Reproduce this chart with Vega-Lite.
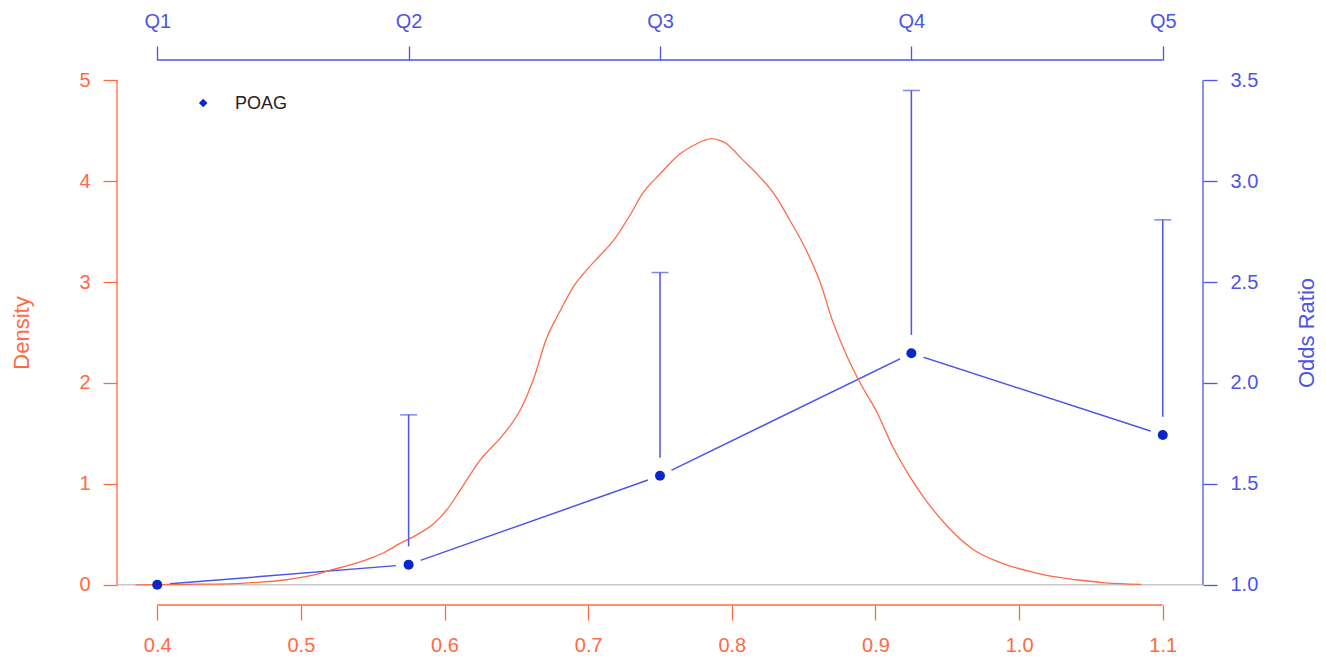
{
  "$schema": "https://vega.github.io/schema/vega-lite/v6.json",
  "autosize": {"type": "none"},
  "width": 1086,
  "height": 545,
  "padding": {"left": 117, "top": 60, "right": 123, "bottom": 60},
  "background": "white",
  "config": {
    "view": {"stroke": null},
    "font": "Liberation Sans",
    "axis": {"domain": false, "grid": false, "labelFont": "Liberation Sans", "titleFont": "Liberation Sans", "titleFontWeight": "normal", "tickWidth": 1.3, "labelFontSize": 20, "titleFontSize": 22}
  },
  "datasets": {
    "density": [
      {"x": 0.385, "d": 0.0}, {"x": 0.42, "d": 0.005}, {"x": 0.45, "d": 0.01}, {"x": 0.47, "d": 0.025},
      {"x": 0.49, "d": 0.05}, {"x": 0.51, "d": 0.1}, {"x": 0.522, "d": 0.15}, {"x": 0.535, "d": 0.2},
      {"x": 0.546, "d": 0.25}, {"x": 0.558, "d": 0.32}, {"x": 0.569, "d": 0.41}, {"x": 0.58, "d": 0.49},
      {"x": 0.592, "d": 0.6}, {"x": 0.602, "d": 0.75}, {"x": 0.611, "d": 0.94}, {"x": 0.625, "d": 1.24},
      {"x": 0.641, "d": 1.49}, {"x": 0.653, "d": 1.74}, {"x": 0.662, "d": 2.04}, {"x": 0.671, "d": 2.44},
      {"x": 0.68, "d": 2.7}, {"x": 0.69, "d": 2.96}, {"x": 0.699, "d": 3.12}, {"x": 0.708, "d": 3.26},
      {"x": 0.717, "d": 3.4}, {"x": 0.729, "d": 3.66}, {"x": 0.738, "d": 3.88}, {"x": 0.75, "d": 4.07},
      {"x": 0.764, "d": 4.27}, {"x": 0.7756, "d": 4.37}, {"x": 0.781, "d": 4.405}, {"x": 0.786, "d": 4.42},
      {"x": 0.791, "d": 4.405}, {"x": 0.7964, "d": 4.37}, {"x": 0.801, "d": 4.31}, {"x": 0.8056, "d": 4.24},
      {"x": 0.8196, "d": 4.04}, {"x": 0.829, "d": 3.88}, {"x": 0.8405, "d": 3.61}, {"x": 0.852, "d": 3.31},
      {"x": 0.8614, "d": 3.0}, {"x": 0.87, "d": 2.62}, {"x": 0.88, "d": 2.27},
      {"x": 0.889, "d": 2.01}, {"x": 0.901, "d": 1.71}, {"x": 0.912, "d": 1.37}, {"x": 0.924, "d": 1.07},
      {"x": 0.936, "d": 0.82}, {"x": 0.95, "d": 0.58}, {"x": 0.968, "d": 0.35}, {"x": 0.987, "d": 0.22},
      {"x": 1.008, "d": 0.13}, {"x": 1.02, "d": 0.09}, {"x": 1.04, "d": 0.05}, {"x": 1.06, "d": 0.02},
      {"x": 1.085, "d": 0.005}
    ],
    "odds": [
      {"q": "Q1", "x": 0.4, "or": 1.0, "bar_from": null, "upper": null},
      {"q": "Q2", "x": 0.575, "or": 1.1, "bar_from": 1.19, "upper": 1.842},
      {"q": "Q3", "x": 0.75, "or": 1.54, "bar_from": 1.63, "upper": 2.547},
      {"q": "Q4", "x": 0.925, "or": 2.147, "bar_from": 2.238, "upper": 3.449},
      {"q": "Q5", "x": 1.1, "or": 1.742, "bar_from": 1.832, "upper": 2.808}
    ],
    "legend": [{"label": "POAG", "sx": 0.432, "sy": 4.773, "tx": 0.4541, "ty": 4.76}],
    "one": [{"k": 1}]
  },
  "layer": [
    {
      "data": {"name": "odds"},
      "mark": {"type": "line", "color": "#4B55E6", "strokeWidth": 1.5},
      "encoding": {
        "x": {"field": "x", "type": "quantitative", "scale": {"domain": [0.372, 1.128], "nice": false, "zero": false}, "axis": null},
        "y": {"field": "or", "type": "quantitative", "scale": {"domain": [0.9, 3.6], "nice": false, "zero": false}, "axis": null}
      }
    },
    {
      "data": {"name": "odds"},
      "mark": {"type": "point", "filled": true, "shape": "circle", "color": "white", "opacity": 1, "size": 650, "strokeWidth": 0},
      "encoding": {
        "x": {"field": "x", "type": "quantitative", "scale": {"domain": [0.372, 1.128], "nice": false, "zero": false}, "axis": null},
        "y": {"field": "or", "type": "quantitative", "scale": {"domain": [0.9, 3.6], "nice": false, "zero": false}, "axis": null}
      }
    },
    {
      "data": {"name": "one"},
      "mark": {"type": "rule", "color": "#C8C8C8", "strokeWidth": 1.5},
      "encoding": {"y": {"datum": 0, "type": "quantitative", "scale": {"domain": [-0.2, 5.2], "nice": false, "zero": false}, "axis": null}}
    },
    {
      "data": {"name": "density"},
      "mark": {"type": "line", "color": "#FF6A45", "strokeWidth": 1.3, "interpolate": "monotone"},
      "encoding": {
        "x": {"field": "x", "type": "quantitative", "scale": {"domain": [0.372, 1.128], "nice": false, "zero": false},
          "axis": {"orient": "bottom", "values": [0.4, 0.5, 0.6, 0.7, 0.8, 0.9, 1.0, 1.1], "format": ".1f", "title": null,
            "labelColor": "#FF6A45", "tickColor": "#FF6A45", "tickSize": 15, "labelPadding": 15}},
        "y": {"field": "d", "type": "quantitative", "scale": {"domain": [-0.2, 5.2], "nice": false, "zero": false},
          "axis": {"orient": "left", "values": [0, 1, 2, 3, 4, 5], "format": "d", "title": "Density",
            "labelColor": "#FF6A45", "tickColor": "#FF6A45", "titleColor": "#FF6A45", "tickSize": 14, "labelPadding": 13, "titlePadding": 45}}
      }
    },
    {
      "data": {"name": "one"},
      "mark": {"type": "rule", "color": "#FF6A45", "strokeWidth": 1.3},
      "encoding": {
        "x": {"datum": 0.4, "type": "quantitative", "scale": {"domain": [0.372, 1.128], "nice": false, "zero": false}, "axis": null},
        "x2": {"datum": 1.1},
        "y": {"datum": -0.2, "type": "quantitative", "scale": {"domain": [-0.2, 5.2], "nice": false, "zero": false}, "axis": null}
      }
    },
    {
      "data": {"name": "one"},
      "mark": {"type": "rule", "color": "#FF6A45", "strokeWidth": 1.3},
      "encoding": {
        "x": {"datum": 0.372, "type": "quantitative", "scale": {"domain": [0.372, 1.128], "nice": false, "zero": false}, "axis": null},
        "y": {"datum": 0, "type": "quantitative", "scale": {"domain": [-0.2, 5.2], "nice": false, "zero": false}, "axis": null},
        "y2": {"datum": 5}
      }
    },
    {
      "data": {"name": "legend"},
      "mark": {"type": "point", "filled": true, "shape": "diamond", "color": "#0A28C8", "opacity": 1, "size": 72},
      "encoding": {
        "x": {"field": "sx", "type": "quantitative", "scale": {"domain": [0.372, 1.128], "nice": false, "zero": false}, "axis": null},
        "y": {"field": "sy", "type": "quantitative", "scale": {"domain": [-0.2, 5.2], "nice": false, "zero": false}, "axis": null}
      }
    },
    {
      "data": {"name": "legend"},
      "mark": {"type": "text", "align": "left", "baseline": "middle", "fontSize": 18, "color": "#222222", "font": "Liberation Sans"},
      "encoding": {
        "x": {"field": "tx", "type": "quantitative", "scale": {"domain": [0.372, 1.128], "nice": false, "zero": false}, "axis": null},
        "y": {"field": "ty", "type": "quantitative", "scale": {"domain": [-0.2, 5.2], "nice": false, "zero": false}, "axis": null},
        "text": {"field": "label"}
      }
    },
    {
      "data": {"name": "odds"},
      "transform": [{"filter": "datum.upper != null"}],
      "mark": {"type": "rule", "color": "#4B55E6", "strokeWidth": 1.5},
      "encoding": {
        "x": {"field": "x", "type": "quantitative", "scale": {"domain": [0.372, 1.128], "nice": false, "zero": false}, "axis": null},
        "y": {"field": "bar_from", "type": "quantitative", "scale": {"domain": [0.9, 3.6], "nice": false, "zero": false}, "axis": null},
        "y2": {"field": "upper"}
      }
    },
    {
      "data": {"name": "odds"},
      "transform": [{"filter": "datum.upper != null"}],
      "mark": {"type": "tick", "orient": "horizontal", "color": "#4B55E6", "size": 17, "thickness": 1.5},
      "encoding": {
        "x": {"field": "x", "type": "quantitative", "scale": {"domain": [0.372, 1.128], "nice": false, "zero": false}, "axis": null},
        "y": {"field": "upper", "type": "quantitative", "scale": {"domain": [0.9, 3.6], "nice": false, "zero": false}, "axis": null}
      }
    },
    {
      "data": {"name": "odds"},
      "mark": {"type": "point", "filled": true, "shape": "circle", "color": "#0A28C8", "opacity": 1, "size": 100},
      "encoding": {
        "x": {"field": "x", "type": "quantitative", "scale": {"domain": [0.372, 1.128], "nice": false, "zero": false},
          "axis": {"orient": "top", "values": [0.4, 0.575, 0.75, 0.925, 1.1], "title": null,
            "labelExpr": "datum.value < 0.5 ? 'Q1' : datum.value < 0.65 ? 'Q2' : datum.value < 0.85 ? 'Q3' : datum.value < 1 ? 'Q4' : 'Q5'",
            "labelColor": "#4B55E6", "tickColor": "#4B55E6", "tickSize": 14, "labelPadding": 15}},
        "y": {"field": "or", "type": "quantitative", "scale": {"domain": [0.9, 3.6], "nice": false, "zero": false},
          "axis": {"orient": "right", "values": [1.0, 1.5, 2.0, 2.5, 3.0, 3.5], "format": ".1f", "title": "Odds Ratio",
            "labelColor": "#4B55E6", "tickColor": "#4B55E6", "titleColor": "#4B55E6", "tickSize": 14, "labelPadding": 13,
            "titleAngle": 270, "titleBaseline": "top", "titlePadding": 39}}
      }
    },
    {
      "data": {"name": "one"},
      "mark": {"type": "rule", "color": "#4B55E6", "strokeWidth": 1.3},
      "encoding": {
        "x": {"datum": 0.4, "type": "quantitative", "scale": {"domain": [0.372, 1.128], "nice": false, "zero": false}, "axis": null},
        "x2": {"datum": 1.1},
        "y": {"datum": 3.6, "type": "quantitative", "scale": {"domain": [0.9, 3.6], "nice": false, "zero": false}, "axis": null}
      }
    },
    {
      "data": {"name": "one"},
      "mark": {"type": "rule", "color": "#4B55E6", "strokeWidth": 1.3},
      "encoding": {
        "x": {"datum": 1.128, "type": "quantitative", "scale": {"domain": [0.372, 1.128], "nice": false, "zero": false}, "axis": null},
        "y": {"datum": 1.0, "type": "quantitative", "scale": {"domain": [0.9, 3.6], "nice": false, "zero": false}, "axis": null},
        "y2": {"datum": 3.5}
      }
    }
  ],
  "resolve": {"scale": {"x": "independent", "y": "independent"}}
}
